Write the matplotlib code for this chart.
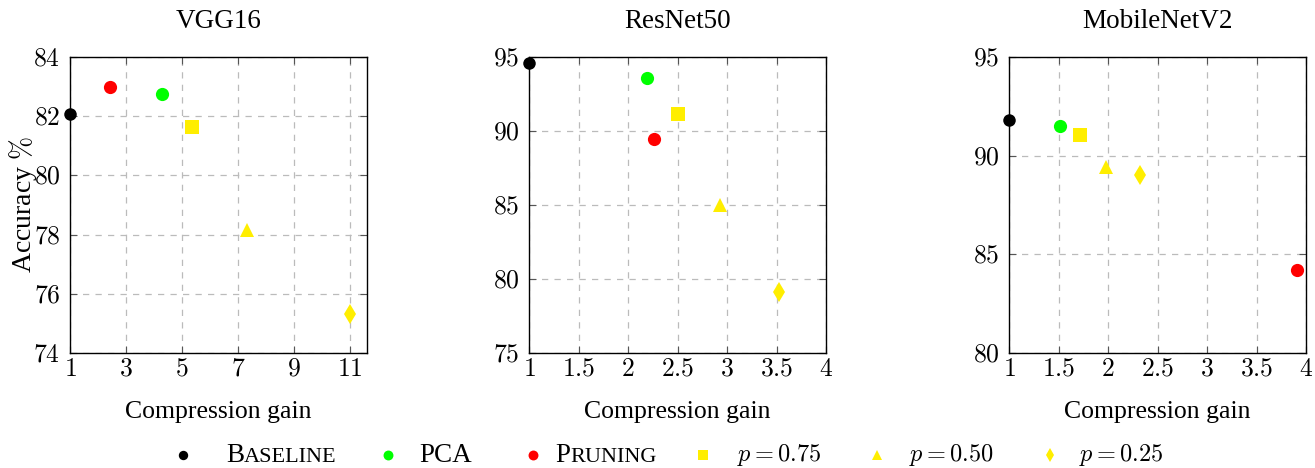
import matplotlib
matplotlib.use("Agg")
import matplotlib.pyplot as plt
from matplotlib.lines import Line2D
from matplotlib.offsetbox import TextArea, HPacker, AnchoredOffsetbox
from matplotlib.ticker import FuncFormatter, FixedLocator

plt.rcParams['mathtext.fontset'] = 'cm'
plt.rcParams['font.family'] = ['Liberation Serif', 'DejaVu Serif']

# ---- data ----
models = ["VGG16", "ResNet50", "MobileNetV2"]
series = ["Baseline", "PCA", "Pruning", "$p = 0.75$", "$p = 0.50$", "$p = 0.25$"]
smallcaps_series = [True, False, True, False, False, False]
markers = ["o", "o", "o", "s", "^", "d"]
colors = ["black", "#00ff00", "#ff0000", "#ffee00", "#ffee00", "#ffee00"]
msizes = [9, 9.5, 9.5, 10, 10.5, 10]

# gain / accuracy per model, in series order
vgg_gain = [1.0, 4.28, 2.43, 5.37, 7.33, 11.01]
vgg_acc = [82.08, 82.75, 83.0, 81.64, 78.17, 75.32]
resnet_gain = [1.0, 2.19, 2.26, 2.505, 2.93, 3.53]
resnet_acc = [94.6, 93.56, 89.44, 91.17, 85.03, 79.1]
mobile_gain = [1.0, 1.515, 3.91, 1.717, 1.976, 2.32]
mobile_acc = [91.8, 91.49, 84.2, 91.05, 89.45, 89.02]

gains = [vgg_gain, resnet_gain, mobile_gain]
accs = [vgg_acc, resnet_acc, mobile_acc]

xlims = [(1, 11.62), (1, 4), (1, 4)]
ylims = [(74, 84), (75, 95), (80, 95)]
xticks = [[1, 3, 5, 7, 9, 11], [1, 1.5, 2, 2.5, 3, 3.5, 4], [1, 1.5, 2, 2.5, 3, 3.5, 4]]
yticks = [[74, 76, 78, 80, 82, 84], [75, 80, 85, 90, 95], [80, 85, 90, 95]]

W, H = 1315, 468
fig = plt.figure(figsize=(W / 100, H / 100), dpi=100)
lefts = [70, 529, 1009]
ax_w, ax_top, ax_bot = 297, 57, 353

fmt = FuncFormatter(lambda v, p: f"${v:g}$")

for i in range(3):
    ax = fig.add_axes([lefts[i] / W, (H - ax_bot) / H, ax_w / W, (ax_bot - ax_top) / H])
    for j in range(len(series)):
        ax.plot(gains[i][j], accs[i][j], linestyle="none", marker=markers[j],
                color=colors[j], markersize=msizes[j], markeredgewidth=0,
                clip_on=False, zorder=5)
    ax.set_xlim(*xlims[i])
    ax.set_ylim(*ylims[i])
    ax.xaxis.set_major_locator(FixedLocator(xticks[i]))
    ax.yaxis.set_major_locator(FixedLocator(yticks[i]))
    ax.xaxis.set_major_formatter(fmt)
    ax.yaxis.set_major_formatter(fmt)
    ax.tick_params(direction="in", top=True, right=True, length=5, width=0.8,
                   color="#555555", labelsize=18.5)
    ax.tick_params(axis="x", pad=4)
    ax.tick_params(axis="y", pad=7)
    ax.grid(True, linestyle=(0, (5, 5)), color="#bbbbbb", linewidth=0.9)
    ax.set_axisbelow(True)
    for s in ax.spines.values():
        s.set_linewidth(1.0)
    ax.set_title(models[i], fontsize=19.5, pad=21)
    ax.set_xlabel("Compression gain", fontsize=18.5, labelpad=15)
    if i == 0:
        ax.set_ylabel("Accuracy $\\%$", fontsize=20)
        ax.yaxis.set_label_coords(-0.105, 0.5)

# ---- legend (manual, with small caps) ----
leg_y = 1 - 455 / H
marker_x = [183, 388, 533, 703, 877, 1050]
text_x = [226, 419, 555, 737, 909, 1079]
for j, name in enumerate(series):
    fig.add_artist(Line2D([marker_x[j] / W], [leg_y], transform=fig.transFigure,
                          linestyle="none", marker=markers[j], color=colors[j],
                          markersize=msizes[j] * 0.75, markeredgewidth=0))
    if smallcaps_series[j]:
        parts = [TextArea(name[0], textprops=dict(fontsize=19.5)),
                 TextArea(name[1:].upper(), textprops=dict(fontsize=16)),]
        box = HPacker(children=parts, align="baseline", pad=0, sep=0)
    else:
        box = TextArea(name, textprops=dict(fontsize=19.5 if "$" not in name else 17.5))
    ab = AnchoredOffsetbox(loc="center left", child=box, pad=0, borderpad=0, frameon=False,
                           bbox_to_anchor=(text_x[j] / W, leg_y),
                           bbox_transform=fig.transFigure)
    fig.add_artist(ab)

fig.savefig("out.png", dpi=100)
